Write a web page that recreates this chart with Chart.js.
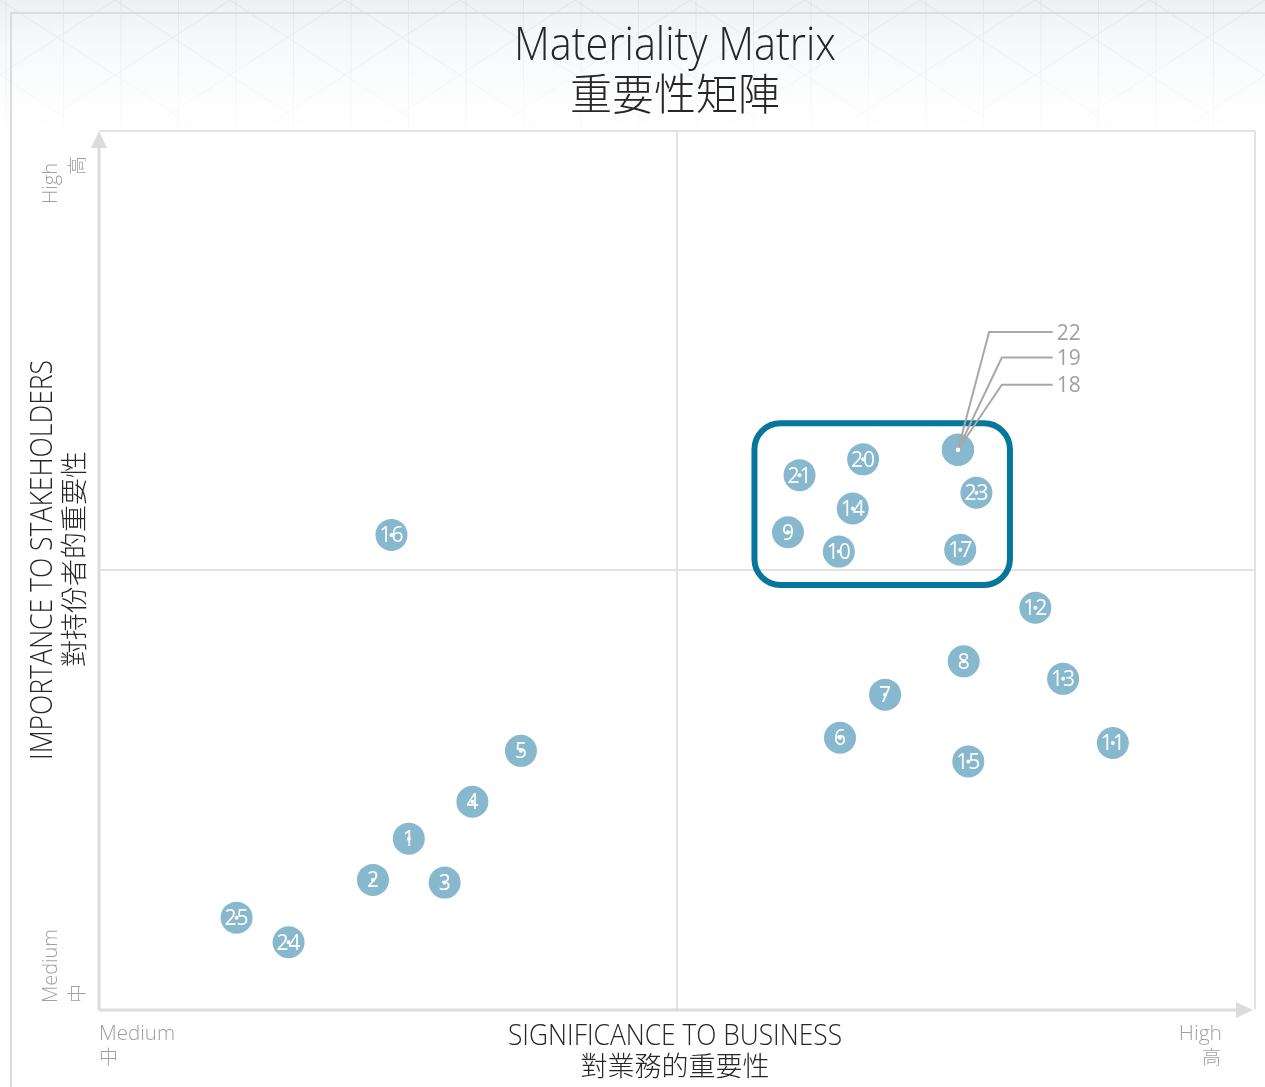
<!DOCTYPE html>
<html>
<head>
<meta charset="utf-8">
<title>Materiality Matrix</title>
<script src="https://cdn.jsdelivr.net/npm/chart.js@4.4.1/dist/chart.umd.min.js"></script>
<style>
  html, body { margin: 0; padding: 0; background: #fff; }
  #wrap { width: 1265px; height: 1087px; position: relative; }
</style>
</head>
<body>
<div id="wrap"><canvas id="matrix"></canvas></div>
<script>
// Issue numbers and their position on the matrix (0 = medium, 10 = high)
const pointIds = [1, 2, 3, 4, 5, 6, 7, 8, 9, 10, 11, 12, 13, 14, 15, 16, 17, 18, 19, 20, 21, 22, 23, 24, 25];
const significance = [2.68, 2.37, 2.99, 3.23, 3.65, 6.41, 6.80, 7.48, 5.96, 6.40, 8.77, 8.10, 8.34, 6.52, 7.52, 2.53, 7.45, 7.43, 7.43, 6.61, 6.06, 7.43, 7.59, 1.64, 1.19];
const importance = [1.94, 1.47, 1.44, 2.36, 2.94, 3.09, 3.58, 3.96, 5.43, 5.21, 3.03, 4.57, 3.76, 5.70, 2.82, 5.40, 5.23, 6.37, 6.37, 6.26, 6.08, 6.37, 5.88, 0.76, 1.04];

// Issues that sit on the same spot and get a leader line instead
const calloutIds = [22, 19, 18];

// Quadrant split ticks
const quadrantTicks = [0, 5, 10];

// Highlighted group of issues (data units: x0, y0, x1, y1)
const focusRegion = [5.67, 4.83, 7.88, 6.67];

const FONT_EN = '"Open Sans", "Noto Sans", sans-serif';
const FONT_CJK = '"Noto Sans CJK TC", "Noto Sans CJK SC", sans-serif';
const BUBBLE = '#88b8cd';
const FOCUS = '#06769b';
const AXIS = '#dcdcdc';
const MUTED = '#a0a0a0';

// Leader line layout for the stacked issues (data units)
const calloutLayout = {
  labelY: [7.71, 7.42, 7.11],
  elbowX: [7.70, 7.81, 7.81],
  endX: 8.25
};

function drawText(ctx, str, x, y, o) {
  ctx.save();
  ctx.translate(x, y);
  if (o.rotate) ctx.rotate(-Math.PI / 2);
  ctx.font = o.font;
  ctx.fillStyle = o.color || '#262626';
  ctx.textAlign = o.align || 'center';
  ctx.textBaseline = o.baseline || 'alphabetic';
  if (o.maxWidth) ctx.fillText(str, 0, 0, o.maxWidth);
  else ctx.fillText(str, 0, 0);
  ctx.restore();
}

const backdropPlugin = {
  id: 'backdrop',
  beforeDraw(chart) {
    const { ctx, width, height, chartArea } = chart;
    ctx.save();
    const bg = ctx.createLinearGradient(0, 0, 0, 150);
    bg.addColorStop(0, '#edf1f4');
    bg.addColorStop(1, '#ffffff');
    ctx.fillStyle = bg;
    ctx.fillRect(0, 0, width, height);

    // faint lattice at the top
    ctx.strokeStyle = 'rgba(200, 212, 222, 0.4)';
    ctx.lineWidth = 1;
    ctx.beginPath();
    for (let x = 6; x < width + 120; x += 57.5) {
      ctx.moveTo(x, 0); ctx.lineTo(x, 150);
    }
    for (let x = -230; x < width + 230; x += 115) {
      ctx.moveTo(x, 0); ctx.lineTo(x + 230, 150);
      ctx.moveTo(x + 230, 0); ctx.lineTo(x, 150);
    }
    ctx.stroke();
    const fade = ctx.createLinearGradient(0, 0, 0, 150);
    fade.addColorStop(0, 'rgba(255,255,255,0)');
    fade.addColorStop(1, 'rgba(255,255,255,1)');
    ctx.fillStyle = fade;
    ctx.fillRect(0, 0, width, 150);

    // outer frame
    ctx.strokeStyle = AXIS;
    ctx.lineWidth = 2;
    ctx.beginPath();
    ctx.moveTo(11, height); ctx.lineTo(11, 13); ctx.lineTo(width, 13);
    ctx.stroke();

    ctx.fillStyle = '#ffffff';
    ctx.fillRect(chartArea.left, chartArea.top, chartArea.right - chartArea.left, chartArea.bottom - chartArea.top);
    ctx.restore();
  },
  beforeDatasetsDraw(chart) {
    const { ctx, chartArea: a, scales } = chart;
    ctx.save();
    // axes with arrow heads
    ctx.strokeStyle = AXIS;
    ctx.fillStyle = AXIS;
    ctx.lineWidth = 3;
    ctx.beginPath();
    ctx.moveTo(a.left, a.bottom + 1);
    ctx.lineTo(a.left, a.top + 12);
    ctx.moveTo(a.left, a.bottom + 1);
    ctx.lineTo(a.right - 12, a.bottom + 1);
    ctx.stroke();
    ctx.beginPath();
    ctx.moveTo(a.left, a.top);
    ctx.lineTo(a.left - 8, a.top + 17);
    ctx.lineTo(a.left + 8, a.top + 17);
    ctx.closePath();
    ctx.moveTo(a.right - 2, a.bottom + 1);
    ctx.lineTo(a.right - 19, a.bottom - 7);
    ctx.lineTo(a.right - 19, a.bottom + 9);
    ctx.closePath();
    ctx.fill();

    // highlighted group
    const x0 = scales.x.getPixelForValue(focusRegion[0]);
    const x1 = scales.x.getPixelForValue(focusRegion[2]);
    const y0 = scales.y.getPixelForValue(focusRegion[3]);
    const y1 = scales.y.getPixelForValue(focusRegion[1]);
    ctx.strokeStyle = FOCUS;
    ctx.lineWidth = 6;
    ctx.beginPath();
    ctx.roundRect(x0, y0, x1 - x0, y1 - y0, 26);
    ctx.stroke();
    ctx.restore();
  },
  afterDatasetsDraw(chart) {
    const { ctx, scales } = chart;
    const meta = chart.getDatasetMeta(0);
    ctx.save();
    // leader lines for the stacked issues
    calloutIds.forEach((id, k) => {
      const el = meta.data[pointIds.indexOf(id)];
      const ex = scales.x.getPixelForValue(calloutLayout.elbowX[k]);
      const ly = scales.y.getPixelForValue(calloutLayout.labelY[k]);
      const endX = scales.x.getPixelForValue(calloutLayout.endX);
      ctx.strokeStyle = '#a8a8a8';
      ctx.lineWidth = 2;
      ctx.beginPath();
      ctx.moveTo(el.x, el.y);
      ctx.lineTo(ex, ly);
      ctx.lineTo(endX, ly);
      ctx.stroke();
      drawText(ctx, String(id), endX + 4, ly + 7.5, { font: `21px ${FONT_EN}`, color: MUTED, align: 'left' });
    });
    // issue numbers
    meta.data.forEach((el, i) => {
      const id = pointIds[i];
      if (calloutIds.includes(id)) return;
      drawText(ctx, String(id), el.x, el.y + 7.5, { font: `21px ${FONT_EN}`, color: '#ffffff' });
    });
    // centre dots
    ctx.fillStyle = '#ffffff';
    meta.data.forEach(el => {
      ctx.beginPath();
      ctx.arc(el.x, el.y, 2, 0, Math.PI * 2);
      ctx.fill();
    });
    ctx.restore();
  },
  afterDraw(chart) {
    const { ctx, chartArea: a } = chart;
    const cx = (a.left + a.right) / 2 - 2;
    const cy = (a.top + a.bottom) / 2;
    // title
    drawText(ctx, 'Materiality Matrix', cx, 60, { font: `300 46px ${FONT_EN}`, maxWidth: 322 });
    drawText(ctx, '重要性矩陣', cx, 94, { font: `300 43px ${FONT_CJK}`, baseline: 'middle', maxWidth: 210 });
    // vertical axis
    drawText(ctx, 'IMPORTANCE TO STAKEHOLDERS', 52, cy - 10, { font: `300 31px ${FONT_EN}`, rotate: true, maxWidth: 400 });
    drawText(ctx, '對持份者的重要性', 74, cy - 11, { font: `300 27px ${FONT_CJK}`, rotate: true, baseline: 'middle', maxWidth: 220 });
    drawText(ctx, 'High', 57, a.top + 32, { font: `300 20px ${FONT_EN}`, rotate: true, align: 'right', color: MUTED });
    drawText(ctx, '高', 77, a.top + 25, { font: `300 19px ${FONT_CJK}`, rotate: true, align: 'right', baseline: 'middle', color: MUTED });
    drawText(ctx, 'Medium', 57, a.bottom - 6, { font: `300 20px ${FONT_EN}`, rotate: true, align: 'left', color: MUTED, maxWidth: 74 });
    drawText(ctx, '中', 77, a.bottom - 6, { font: `300 19px ${FONT_CJK}`, rotate: true, align: 'left', baseline: 'middle', color: MUTED });
    // horizontal axis
    drawText(ctx, 'SIGNIFICANCE TO BUSINESS', cx, a.bottom + 36, { font: `300 30px ${FONT_EN}`, maxWidth: 334 });
    drawText(ctx, '對業務的重要性', cx, a.bottom + 57, { font: `300 27px ${FONT_CJK}`, baseline: 'middle', maxWidth: 192 });
    drawText(ctx, 'Medium', a.left, a.bottom + 31, { font: `300 21px ${FONT_EN}`, align: 'left', color: MUTED, maxWidth: 76 });
    drawText(ctx, '中', a.left, a.bottom + 48, { font: `300 19px ${FONT_CJK}`, align: 'left', baseline: 'middle', color: MUTED });
    drawText(ctx, 'High', a.right - 33, a.bottom + 31, { font: `300 21px ${FONT_EN}`, align: 'right', color: MUTED });
    drawText(ctx, '高', a.right - 34, a.bottom + 48, { font: `300 19px ${FONT_CJK}`, align: 'right', baseline: 'middle', color: MUTED });
  }
};

const points = pointIds.map((id, i) => ({ x: significance[i], y: importance[i] }));

const quadrantScale = {
  type: 'linear',
  min: 0,
  max: 10,
  afterBuildTicks: (scale) => { scale.ticks = quadrantTicks.map(v => ({ value: v })); },
  ticks: { display: false },
  border: { display: false },
  grid: {
    drawTicks: false,
    lineWidth: 2,
    color: (c) => (c.tick && c.tick.value === 0 ? 'rgba(0,0,0,0)' : '#e2e2e2')
  }
};

new Chart(document.getElementById('matrix'), {
  type: 'scatter',
  data: {
    datasets: [{
      data: points,
      backgroundColor: BUBBLE,
      borderWidth: 0,
      pointRadius: 16,
      pointHoverRadius: 16
    }]
  },
  options: {
    responsive: true,
    maintainAspectRatio: false,
    animation: false,
    layout: { autoPadding: false, padding: { left: 99, top: 131, right: 10, bottom: 78 } },
    scales: { x: quadrantScale, y: quadrantScale },
    plugins: {
      legend: { display: false },
      tooltip: { enabled: false },
      title: { display: false }
    }
  },
  plugins: [backdropPlugin]
});
</script>
</body>
</html>
